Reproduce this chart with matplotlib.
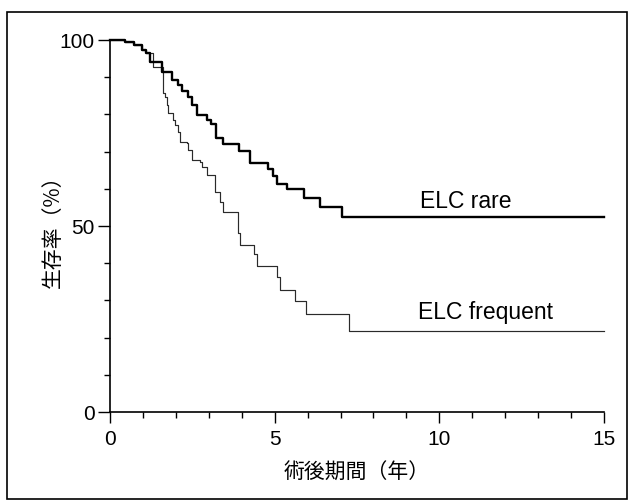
import matplotlib.pyplot as plt
from matplotlib.patches import Rectangle
from matplotlib.ticker import MultipleLocator

# Kaplan-Meier steps (years, survival %)
rare_t = [0, 0.46, 0.72, 0.96, 1.1, 1.21, 1.57, 1.88, 2.05, 2.2, 2.38, 2.5, 2.64,
          2.94, 3.06, 3.22, 3.43, 3.91, 4.24, 4.8, 4.95, 5.07, 5.37, 5.88, 6.39, 7.03, 15]
rare_s = [100, 99.5, 98.7, 97.3, 96.4, 94.2, 91.3, 89.3, 87.8, 86.3, 84.8, 82.4, 79.9,
          78.6, 77.3, 73.7, 72.1, 70.1, 67.0, 65.2, 63.5, 61.4, 59.9, 57.5, 55.2, 52.3, 52.3]

freq_t = [0, 0.46, 0.72, 0.96, 1.1, 1.3, 1.62, 1.67, 1.72, 1.77, 1.92, 1.97, 2.07, 2.13,
          2.33, 2.38, 2.48, 2.73, 2.78, 2.94, 3.19, 3.34, 3.44, 3.9, 3.95, 4.38, 4.46,
          5.06, 5.17, 5.63, 5.95, 7.25, 15]
freq_s = [100, 99.5, 98.7, 97.3, 96.4, 92.8, 85.7, 84.8, 82.5, 80.3, 78.5, 77.2, 75.3, 72.7,
          72.2, 70.4, 67.7, 67.3, 65.9, 63.7, 59.2, 56.5, 53.8, 48.0, 45.0, 42.4, 39.3,
          36.3, 32.8, 29.8, 26.3, 21.8, 21.8]

labels = ['ELC rare', 'ELC frequent']
label_pos = [(9.4, 56.6), (9.35, 26.8)]

jp = ['Noto Sans CJK JP', 'DejaVu Sans']
lat = ['Liberation Sans', 'DejaVu Sans']

fig = plt.figure(figsize=(6.29, 5.0), dpi=100)
ax = fig.add_axes([110 / 629, 1 - 412 / 500, (604 - 110) / 629, (412 - 40) / 500])

ax.plot(freq_t, freq_s, drawstyle='steps-post', color='#2a2a2a', lw=0.85, clip_on=False)
ax.plot(rare_t, rare_s, drawstyle='steps-post', color='black', lw=1.7, clip_on=False)

for txt, (x, y) in zip(labels, label_pos):
    ax.text(x, y, txt, fontsize=16.5, family=lat, va='center', ha='left')

ax.set_xlim(0, 15)
ax.set_ylim(0, 100)
ax.set_xticks([0, 5, 10, 15])
ax.set_yticks([0, 50, 100])
ax.xaxis.set_minor_locator(MultipleLocator(1))
ax.yaxis.set_minor_locator(MultipleLocator(10))
ax.tick_params(axis='y', which='major', length=9, width=1, labelsize=15, pad=2)
ax.tick_params(axis='x', which='major', length=8, width=1, labelsize=15, pad=5)
ax.tick_params(which='minor', length=4.5, width=1)
for lbl in ax.get_xticklabels() + ax.get_yticklabels():
    lbl.set_family(lat)

for s in ['top', 'right']:
    ax.spines[s].set_visible(False)
for s in ['left', 'bottom']:
    ax.spines[s].set_linewidth(1.2)

ax.set_xlabel('術後期間（年）', fontsize=15, family=jp, labelpad=9)
ax.set_ylabel('生存率（%）', fontsize=15, family=jp, labelpad=-3)

# scanned page frame
fig.patches.append(Rectangle((7 / 629, 0.003), 1 - 9 / 629, 1 - 12 / 500 - 0.003,
                             transform=fig.transFigure, fill=False, lw=1.2, ec='black'))

fig.savefig('out.png', dpi=100, facecolor='white')
